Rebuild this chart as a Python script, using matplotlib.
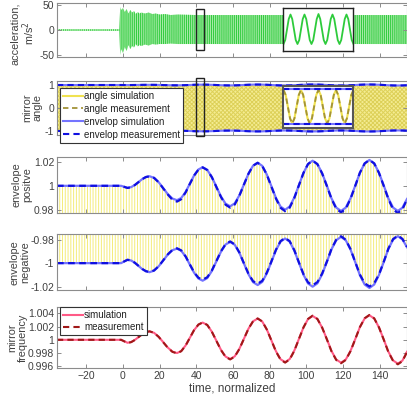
import numpy as np
import matplotlib
matplotlib.use('Agg')
import matplotlib.pyplot as plt
from matplotlib.patches import Rectangle

plt.rcParams['font.family'] = ['Liberation Sans Narrow', 'Liberation Sans', 'DejaVu Sans']
plt.rcParams['hatch.linewidth'] = 0.7

# time grid of the envelope / frequency curves (normalized time)
t_env = [-36, -1, 0.75, 2.5,
         4.5, 6.5, 8.5, 10.5, 12.5, 14.5,
         17, 19.5, 22, 24.5, 27, 29.5,
         31.8, 34.2, 36.5, 38.8, 41.2, 43.5,
         46, 48.5, 51, 53.5, 56, 58.5,
         61, 63.5, 66, 68.5, 71, 73.5,
         76, 78.5, 81, 83.5, 86, 88.5,
         91, 93.5, 96, 98.5, 101, 103.5,
         106.1, 108.7, 111.3, 113.8, 116.4, 119,
         121.6, 124.2, 126.8, 129.3, 131.9, 134.5,
         137.1, 139.7, 142.3, 144.8, 147.4, 150,
         152.5, 155]

env_pos_sim = [1.0, 1.0, 0.9991, 0.9983,
               0.99895, 1.00073, 1.00315, 1.00558, 1.00735, 1.008,
               1.00666, 1.003, 0.998, 0.993, 0.98934, 0.988,
               0.98984, 0.99488, 1.00175, 1.00863, 1.01366, 1.0155,
               1.01332, 1.00735, 0.9992, 0.99105, 0.98508, 0.9829,
               0.98534, 0.992, 1.0011, 1.0102, 1.01686, 1.0193,
               1.01667, 1.00948, 0.99965, 0.98983, 0.98263, 0.980,
               0.98275, 0.99025, 1.0005, 1.01075, 1.01825, 1.021,
               1.01819, 1.0105, 1.0, 0.9895, 0.98181, 0.979,
               0.98185, 0.98965, 1.0003, 1.01095, 1.01875, 1.0216,
               1.01875, 1.01095, 1.0003, 0.98965, 0.98185, 0.979,
               0.98168, 0.98901]
env_pos_meas = [1.0, 1.0, 0.9991, 0.9982,
                0.99885, 1.00065, 1.0031, 1.00555, 1.00732, 1.00795,
                1.0066, 1.0029, 0.9978, 0.9927, 0.98835, 0.9868,
                0.9888, 0.9945, 1.0016, 1.0085, 1.0136, 1.0154,
                1.0132, 1.0072, 0.9989, 0.9906, 0.9842, 0.9818,
                0.9844, 0.9916, 1.0010, 1.0101, 1.0168, 1.0192,
                1.0166, 1.0093, 0.9993, 0.9893, 0.9816, 0.9788,
                0.9818, 0.9898, 1.0003, 1.0107, 1.0182, 1.0210,
                1.0181, 1.0103, 0.9997, 0.9891, 0.9808, 0.9778,
                0.9808, 0.9892, 1.0001, 1.0109, 1.0187, 1.0216,
                1.0187, 1.0108, 0.9999, 0.9891, 0.9803, 0.9772,
                0.9804, 0.9886]

env_neg_sim = [-1.0, -1.0, -0.9985, -0.9971,
               -0.99781, -0.99975, -1.0024, -1.00505, -1.00699, -1.0077,
               -1.00636, -1.0027, -0.9977, -0.9927, -0.98904, -0.9877,
               -0.98952, -0.9945, -1.0013, -1.0081, -1.01308, -1.0149,
               -1.0127, -1.00668, -0.99845, -0.99023, -0.9842, -0.982,
               -0.98445, -0.99115, -1.0003, -1.00945, -1.01615, -1.0186,
               -1.01595, -1.00873, -0.99885, -0.98898, -0.98175, -0.9791,
               -0.98184, -0.98933, -0.99955, -1.00978, -1.01726, -1.020,
               -1.01717, -1.00943, -0.99885, -0.98828, -0.98053, -0.9777,
               -0.98061, -0.98855, -0.9994, -1.01025, -1.01819, -1.0211,
               -1.01815, -1.0101, -0.9991, -0.9881, -0.98005, -0.9771,
               -0.97987, -0.9865]
env_neg_meas = [-1.0, -1.0, -0.9985, -0.9972,
                -0.9978, -0.9997, -1.0023, -1.0049, -1.0068, -1.0075,
                -1.0062, -1.0026, -0.9976, -0.9925, -0.9888, -0.9874,
                -0.9892, -0.9943, -1.0011, -1.0077, -1.0124, -1.0140,
                -1.0120, -1.0062, -0.9982, -0.9899, -0.9839, -0.9816,
                -0.9841, -0.9909, -1.0001, -1.0090, -1.0153, -1.0175,
                -1.0150, -1.0081, -0.9986, -0.9886, -0.9813, -0.9786,
                -0.9814, -0.9890, -0.9993, -1.0093, -1.0163, -1.0188,
                -1.0161, -1.0088, -0.9986, -0.9879, -0.9801, -0.9772,
                -0.9802, -0.9882, -0.9992, -1.0097, -1.0171, -1.0198,
                -1.0170, -1.0096, -0.9989, -0.9878, -0.9796, -0.9766,
                -0.9794, -0.9862]

freq_sim = [1.0, 1.0, 0.99978, 0.99955,
            0.99967, 0.99998, 1.00041, 1.00084, 1.00115, 1.00127,
            1.00105, 1.00045, 0.99964, 0.99882, 0.99822, 0.9980,
            0.99831, 0.99915, 1.0003, 1.00145, 1.00229, 1.0026,
            1.00223, 1.00123, 0.99985, 0.99848, 0.99747, 0.9971,
            0.99751, 0.99863, 1.00015, 1.00168, 1.00279, 1.0032,
            1.00276, 1.00156, 0.99992, 0.99827, 0.99707, 0.99663,
            0.9971, 0.99837, 1.00012, 1.00186, 1.00313, 1.0036,
            1.00313, 1.00184, 1.00008, 0.99831, 0.99702, 0.99655,
            0.99703, 0.99834, 1.00013, 1.00191, 1.00322, 1.0037,
            1.00321, 1.00188, 1.00005, 0.99823, 0.99689, 0.9964,
            0.99686, 0.9982]
freq_meas = [1.0, 1.0, 0.99976, 0.99952,
             0.99965, 0.99997, 1.00041, 1.00085, 1.00116, 1.00128,
             1.00105, 1.00044, 0.99962, 0.99879, 0.99818, 0.99796,
             0.99828, 0.99913, 1.0003, 1.00146, 1.0023, 1.00262,
             1.00224, 1.00122, 0.99983, 0.99845, 0.99742, 0.99704,
             0.99746, 0.99860, 1.00014, 1.00168, 1.0028, 1.00322,
             1.00277, 1.00155, 0.9999, 0.99823, 0.99701, 0.99656,
             0.99704, 0.99833, 1.0001, 1.00186, 1.00315, 1.00364,
             1.00315, 1.00184, 1.00005, 0.99826, 0.99695, 0.99646,
             0.99696, 0.99830, 1.00012, 1.00192, 1.00325, 1.00375,
             1.00324, 1.00188, 1.00003, 0.99818, 0.99681, 0.9963,
             0.99678, 0.99815]

# acceleration: upper / lower extent of the fast oscillation
accel_t = [-36, -2, -1.5, -1, 0, 1, 2, 3, 4, 5, 6, 7, 8, 9, 10, 12, 14, 16, 18,
           20, 23, 26, 30, 40, 60, 80, 100, 120, 140, 155]
accel_hi = [1.5, 1.5, 46, 40, 44, 36, 42, 33, 40, 35, 38, 32, 36, 33, 35, 33, 35,
            32, 33, 31, 32, 30, 31, 30, 30, 30, 30, 30, 30, 30]
accel_lo = [-1.5, -1.5, -50, -38, -46, -34, -42, -30, -38, -32, -35, -28, -33, -30,
            -32, -29, -31, -28, -29, -28, -28, -27, -28, -28, -28, -28, -28, -28,
            -28, -28]

# zoomed window (t = 40.1 .. 44.4)
zoom_range = [40.1, 44.4]
zoom_acc = [-28, -20, 1, 22, 31, 22, 1, -20,
            -28, -20, 1, 22, 31, 22, 1, -20,
            -28, -20, 1, 22, 32, 22, 1, -20,
            -28, -20, 1, 22, 31, 22, 1, -20,
            -28, -20, 1, 22, 31, 22, 1, -20, -28]
zoom_angle = [0.94, 0.66, 0, -0.66, -0.94, -0.66, 0, 0.66,
              0.94, 0.66, 0, -0.66, -0.94, -0.66, 0, 0.66,
              0.94, 0.66, 0, -0.66, -0.94, -0.66, 0, 0.66,
              0.94, 0.66, 0, -0.66, -0.94, -0.66, 0, 0.66, 0.94]
zoom_env = [1.0, -1.0]

x_ticks = [-20, 0, 20, 40, 60, 80, 100, 120, 140]
y_ticks = [[-50, 0, 50], [-1, 0, 1], [0.98, 1, 1.02], [-1.02, -1, -0.98],
           [0.996, 0.998, 1, 1.002, 1.004]]
y_ticklabels = [['-50', '0', '50'], ['-1', '0', '1'], ['0.98', '1', '1.02'],
                ['-1.02', '-1', '-0.98'], ['0.996', '0.998', '1', '1.002', '1.004']]
y_labels = ['acceleration,\nm/s$^2$', 'mirror\nangle', 'envelope\npositve',
            'envelope\nnegative', 'mirror\nfrequency']
y_lims = [(-54, 54), (-1.174, 1.174), (0.9773, 1.0241), (-1.0228, -0.9757),
          (0.9957, 1.0049)]
label_x = [-0.056, -0.040, -0.071, -0.077, -0.083]
label_y = [0.44, 0.5, 0.5, 0.5, 0.5]

c_green = '#2ecb3c'
c_green_fill = '#a6eaa6'
c_yellow = '#f0e250'
c_olive = '#a39338'
c_env_sim = '#7474ff'
c_env_meas = '#1010e0'
c_fsim = '#ff5a86'
c_fmeas = '#a01818'
c_text = '#404040'
c_spine = '#8c8c8c'

fig = plt.figure(figsize=(4.07, 3.99), dpi=100)
left, width = 0.140, 0.860
boxes = [[left, 0.8571, width, 0.1353],
         [left, 0.6617, width, 0.1353],
         [left, 0.4662, width, 0.1404],
         [left, 0.2732, width, 0.1391],
         [left, 0.0769, width, 0.1529]]
axes = [fig.add_axes(b) for b in boxes]

for i, ax in enumerate(axes):
    ax.set_xlim(-36, 155)
    ax.set_ylim(*y_lims[i])
    ax.set_xticks(x_ticks)
    ax.set_yticks(y_ticks[i])
    ax.set_yticklabels(y_ticklabels[i])
    ax.tick_params(direction='in', length=3, width=0.7, top=True, right=True,
                   colors=c_spine, labelcolor=c_text, labelsize=7.5, pad=2)
    for s in ax.spines.values():
        s.set_color(c_spine)
        s.set_linewidth(0.8)
    ax.set_ylabel(y_labels[i], color=c_text, fontsize=7.8, linespacing=1.05)
    ax.yaxis.set_label_coords(label_x[i], label_y[i])
    if i < 4:
        ax.set_xticklabels([])

# --- panel 1: acceleration
ax = axes[0]
ax.fill_between(accel_t, accel_lo, accel_hi, facecolor=c_green_fill, edgecolor=c_green,
                hatch='||||||||', linewidth=0)
ax.add_patch(Rectangle((zoom_range[0], -40), zoom_range[1] - zoom_range[0], 81.4,
                       fill=False, edgecolor='#222222', linewidth=1, zorder=5))
ins1 = ax.inset_axes([87.6, -41.4, 38.2, 84.8], transform=ax.transData)
zt1 = np.linspace(zoom_range[0], zoom_range[1], len(zoom_acc))
ins1.plot(zt1, zoom_acc, color=c_green, linewidth=1.3)
ins1.set_xlim(zoom_range)
ins1.set_ylim(-41.4, 43.4)
ins1.set_xticks([])
ins1.set_yticks([])
for s in ins1.spines.values():
    s.set_color('#222222')
    s.set_linewidth(1)

# --- panel 2: mirror angle
ax = axes[1]
ax.fill_between(t_env, env_neg_sim, env_pos_sim, facecolor='#f4ec92', edgecolor='#ddd058',
                hatch='xxxxxxxx', linewidth=0)
for env_s, env_m in [(env_pos_sim, env_pos_meas), (env_neg_sim, env_neg_meas)]:
    ax.plot(t_env, env_s, color=c_env_sim, linewidth=1.5)
    ax.plot(t_env, env_m, color=c_env_meas, linewidth=1.5, linestyle=(0, (3, 2)))
ax.add_patch(Rectangle((zoom_range[0], -1.23), zoom_range[1] - zoom_range[0], 2.52,
                       fill=False, edgecolor='#222222', linewidth=1, zorder=5,
                       clip_on=False))
ins2 = ax.inset_axes([87.6, -0.87, 38.2, 1.83], transform=ax.transData)
zt2 = np.linspace(zoom_range[0], zoom_range[1], len(zoom_angle))
h_as, = ins2.plot(zt2, zoom_angle, color=c_yellow, linewidth=1.5)
h_am, = ins2.plot(zt2, zoom_angle, color=c_olive, linewidth=1.3, linestyle=(0, (3, 2)))
for v in zoom_env:
    h_es = ins2.axhline(v, color=c_env_sim, linewidth=1.5)
    h_em = ins2.axhline(v, color=c_env_meas, linewidth=1.5, linestyle=(0, (3, 2)))
ins2.set_xlim(zoom_range)
ins2.set_ylim(-1.2, 1.17)
ins2.set_xticks([])
ins2.set_yticks([])
for s in ins2.spines.values():
    s.set_color('#555555')
    s.set_linewidth(1.5)
leg = ax.legend([h_as, h_am, h_es, h_em],
                ['angle simulation', 'angle measurement', 'envelop simulation',
                 'envelop measurement'],
                loc='upper left', bbox_to_anchor=(0.008, 0.87), fontsize=7,
                fancybox=False, framealpha=1, edgecolor='#333333', borderpad=0.3,
                labelspacing=0.3, handlelength=2.1, handletextpad=0.1, borderaxespad=0)
leg.get_frame().set_linewidth(0.8)
for txt in leg.get_texts():
    txt.set_color('#222222')

# --- panels 3 and 4: positive / negative envelope (zoomed angle)
for ax, env_s, env_m in [(axes[2], env_pos_sim, env_pos_meas),
                         (axes[3], env_neg_sim, env_neg_meas)]:
    ax.fill_between(t_env, env_neg_sim, env_pos_sim, facecolor='white', edgecolor='#f4ec7a',
                    hatch='||||||', linewidth=0)
    ax.plot(t_env, env_s, color=c_env_sim, linewidth=1.6)
    ax.plot(t_env, env_m, color=c_env_meas, linewidth=1.6, linestyle=(0, (3, 2)))

# --- panel 5: mirror frequency
ax = axes[4]
ax.plot(t_env, freq_sim, color=c_fsim, linewidth=1.5, label='simulation')
ax.plot(t_env, freq_meas, color=c_fmeas, linewidth=1.5, linestyle=(0, (3, 2)),
        label='measurement')
leg = ax.legend(loc='upper left', bbox_to_anchor=(0.008, 1.0), fontsize=7,
                fancybox=False, framealpha=1, edgecolor='#333333', borderpad=0.3,
                labelspacing=0.2, handlelength=2.1, handletextpad=0.1, borderaxespad=0)
leg.get_frame().set_linewidth(0.8)
for txt in leg.get_texts():
    txt.set_color('#222222')
ax.set_xlabel('time, normalized', color=c_text, fontsize=8.5, labelpad=1)

fig.savefig('out.png', dpi=100)
